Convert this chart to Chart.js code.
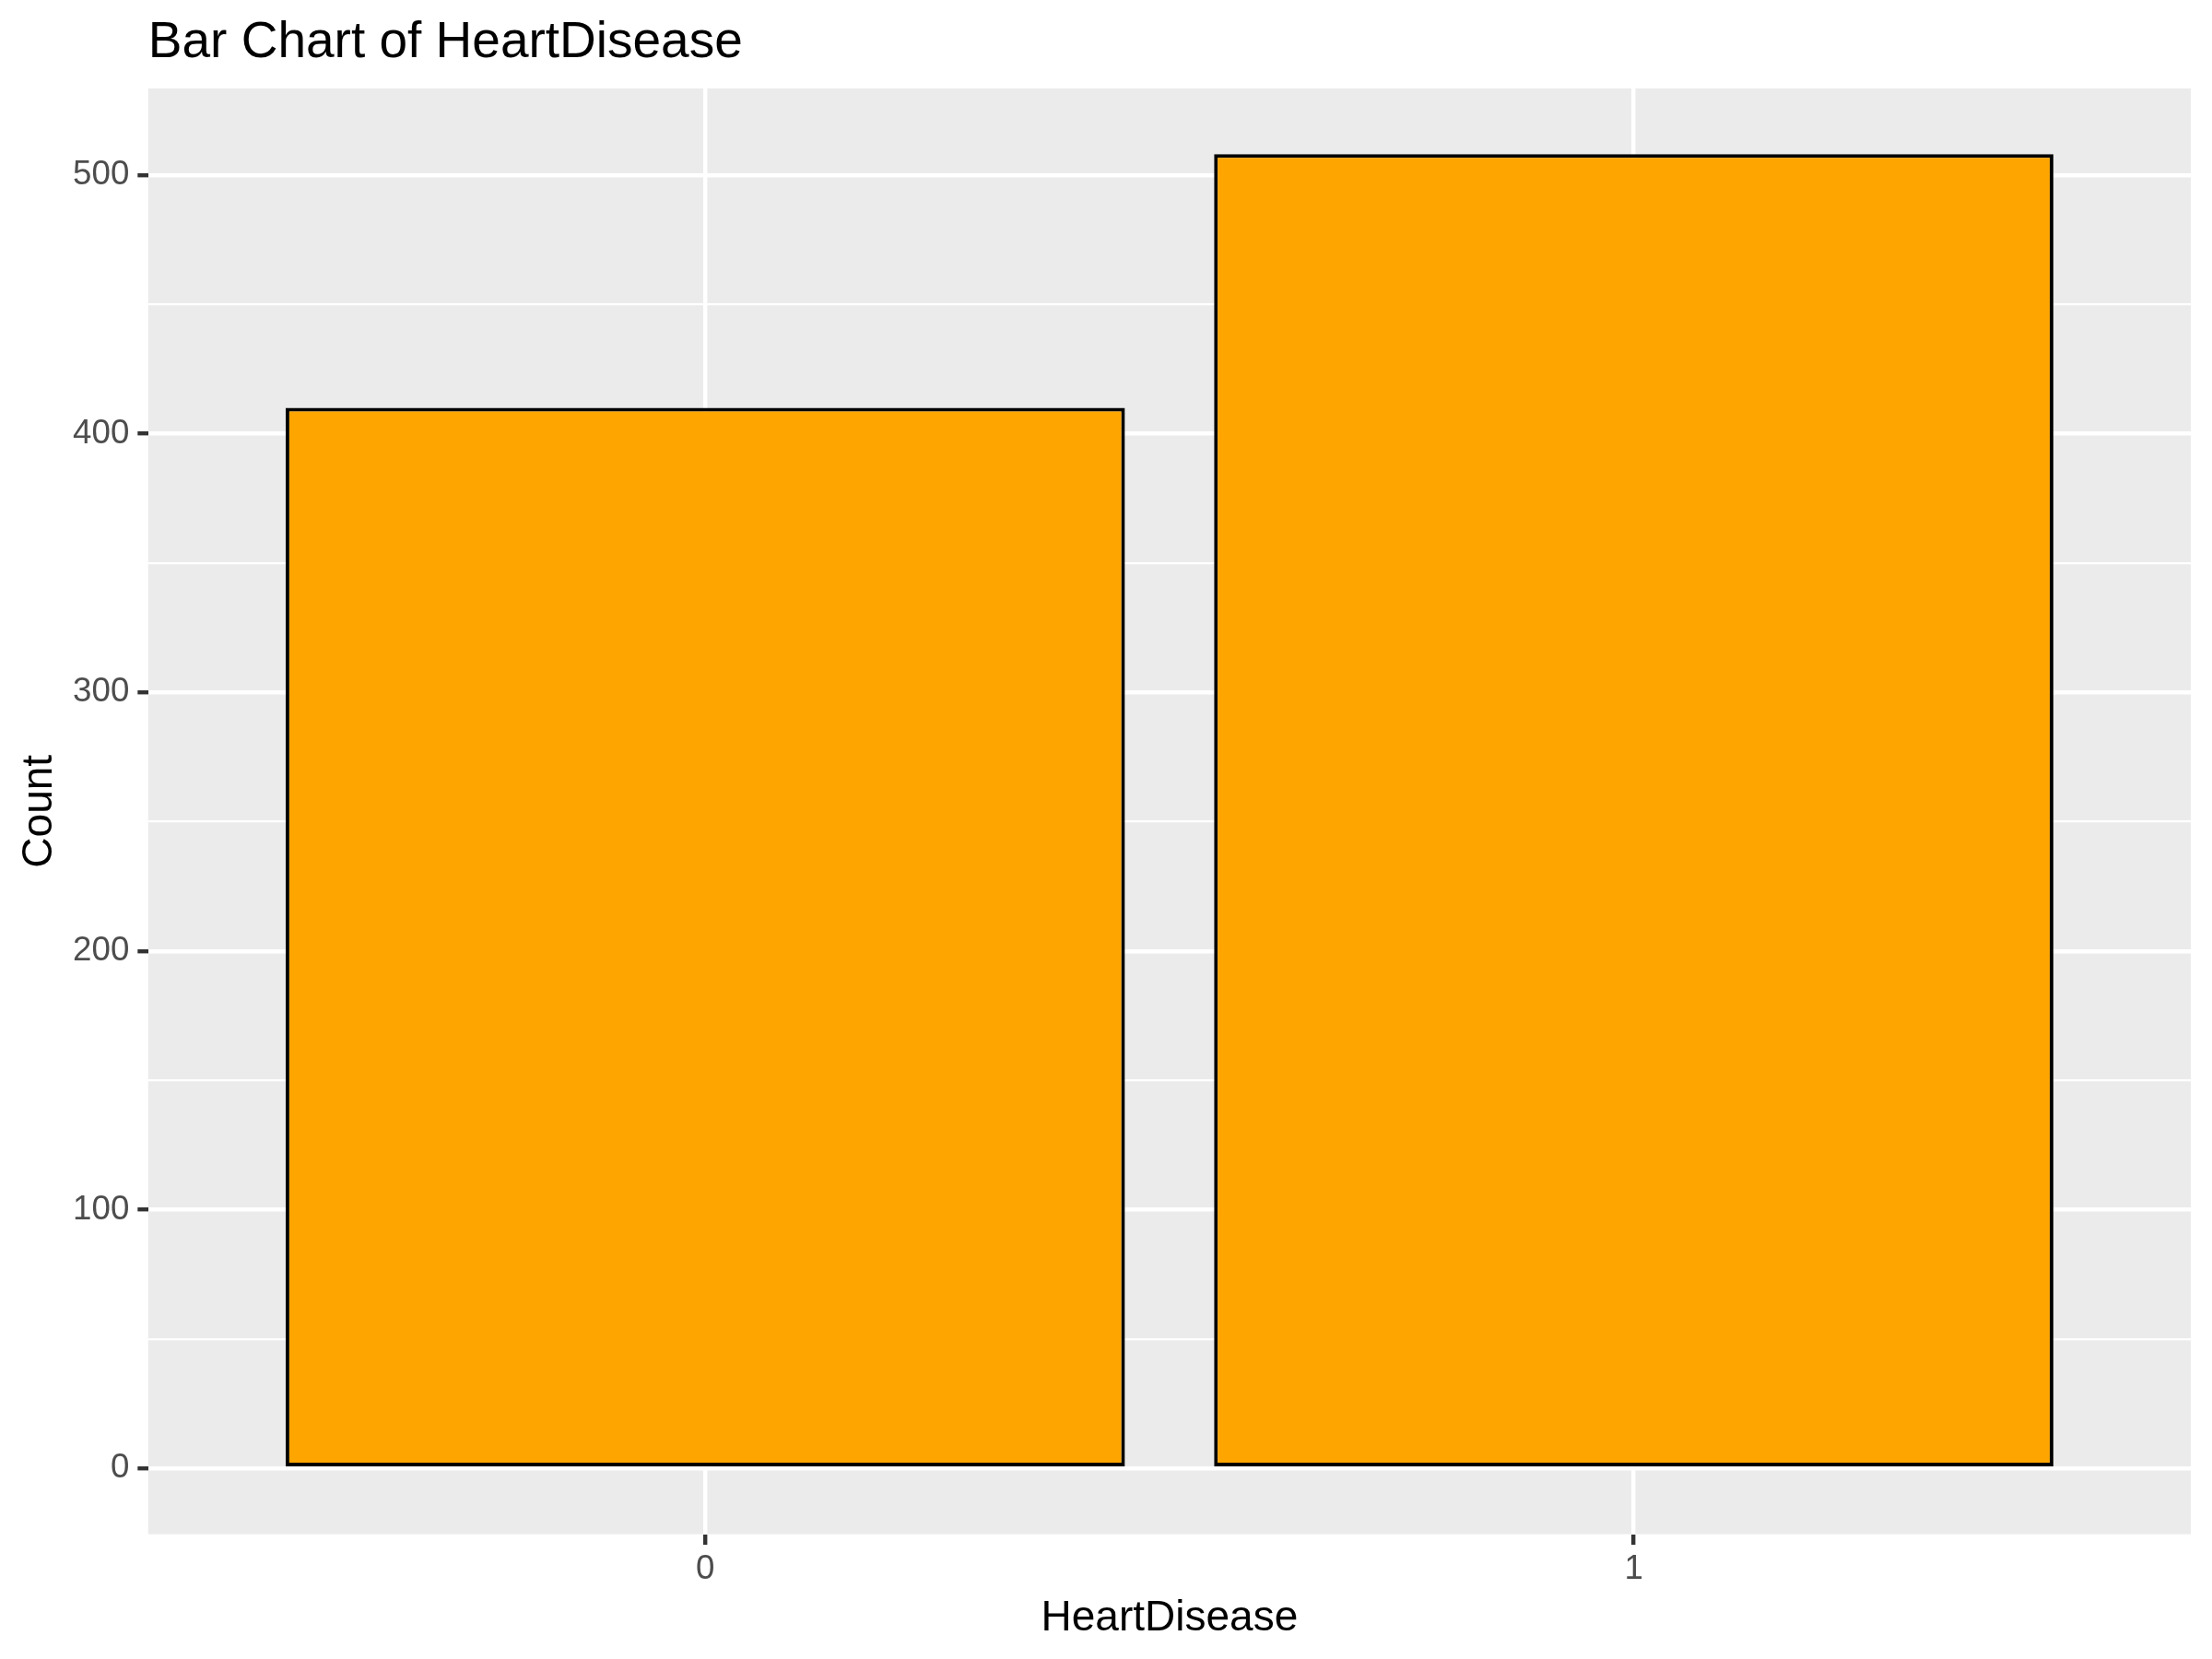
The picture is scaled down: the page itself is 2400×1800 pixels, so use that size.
<!DOCTYPE html>
<html>
<head>
<meta charset="utf-8">
<script src="https://cdn.jsdelivr.net/npm/chart.js@4/dist/chart.umd.min.js"></script>
<style>
  html, body { margin: 0; padding: 0; background: #ffffff; }
  #wrap { width: 2400px; height: 1800px; position: relative; }
</style>
</head>
<body>
<div id="wrap"><canvas id="barChart"></canvas></div>
<script>
// dados do gráfico
const categories = ['0', '1'];
const counts = [410, 508];
const yMajorTicks = [0, 100, 200, 300, 400, 500];
const yMinorTicks = [50, 150, 250, 350, 450];

const FONT = "'Liberation Sans', Arial, sans-serif";

// fundo cinza do painel (estilo ggplot)
const panelBackground = {
  id: 'panelBackground',
  beforeDraw(chart) {
    const { ctx, chartArea } = chart;
    ctx.save();
    ctx.fillStyle = '#EBEBEB';
    ctx.fillRect(chartArea.left, chartArea.top, chartArea.right - chartArea.left, chartArea.bottom - chartArea.top);
    ctx.restore();
  }
};

const yMax = Math.max(...counts);
const yPad = yMax * 0.05;

const ctx = document.getElementById('barChart').getContext('2d');
new Chart(ctx, {
  type: 'bar',
  data: {
    datasets: [{
      label: 'Count',
      data: counts.map((c, i) => ({ x: i, y: c })),
      backgroundColor: '#FFA500',
      borderColor: '#000000',
      borderWidth: 4,
      borderSkipped: false,
      barPercentage: 0.904,
      categoryPercentage: 1.0
    }]
  },
  options: {
    responsive: true,
    maintainAspectRatio: false,
    devicePixelRatio: 1,
    animation: false,
    layout: { padding: { top: 19, right: 23, bottom: 12, left: 18.5 } },
    plugins: {
      legend: { display: false },
      tooltip: { enabled: false },
      title: {
        display: true,
        text: 'Bar Chart of HeartDisease',
        align: 'start',
        fullSize: false,
        color: '#000000',
        font: { family: FONT, size: 55, weight: 'normal', lineHeight: 1 },
        padding: { top: 0, bottom: 22 }
      }
    },
    scales: {
      x: {
        type: 'linear',
        offset: false,
        min: -0.6,
        max: categories.length - 1 + 0.6,
        afterBuildTicks(scale) {
          scale.ticks = categories.map((c, i) => ({ value: i }));
        },
        ticks: {
          color: '#4D4D4D',
          font: { family: FONT, size: 36.7, lineHeight: 1 },
          padding: 8,
          maxRotation: 0,
          callback: (v) => categories[v]
        },
        grid: {
          offset: false,
          color: '#FFFFFF',
          lineWidth: 4.4,
          tickLength: 11.5,
          tickColor: '#333333',
          tickWidth: 4.4
        },
        border: { display: false },
        title: {
          display: true,
          text: 'HeartDisease',
          color: '#000000',
          font: { family: FONT, size: 46, lineHeight: 1.2 },
          padding: { top: 0, bottom: 4 }
        }
      },
      y: {
        type: 'linear',
        min: -yPad,
        max: yMax + yPad,
        afterBuildTicks(scale) {
          scale.ticks = yMajorTicks.concat(yMinorTicks)
            .sort((a, b) => a - b)
            .map(v => ({ value: v }));
        },
        ticks: {
          color: '#4D4D4D',
          font: { family: FONT, size: 36.7, lineHeight: 1 },
          padding: 9,
          callback: (v) => yMajorTicks.includes(v) ? String(v) : ''
        },
        grid: {
          color: '#FFFFFF',
          lineWidth: (c) => yMajorTicks.includes(c.tick && c.tick.value) ? 4.4 : 2.2,
          tickLength: 11.5,
          tickColor: (c) => yMajorTicks.includes(c.tick && c.tick.value) ? '#333333' : 'rgba(0,0,0,0)',
          tickWidth: 4.4
        },
        border: { display: false },
        title: {
          display: true,
          text: 'Count',
          color: '#000000',
          font: { family: FONT, size: 46, lineHeight: 1.1 },
          padding: { top: 0, bottom: 1 }
        }
      }
    }
  },
  plugins: [panelBackground]
});
</script>
</body>
</html>
